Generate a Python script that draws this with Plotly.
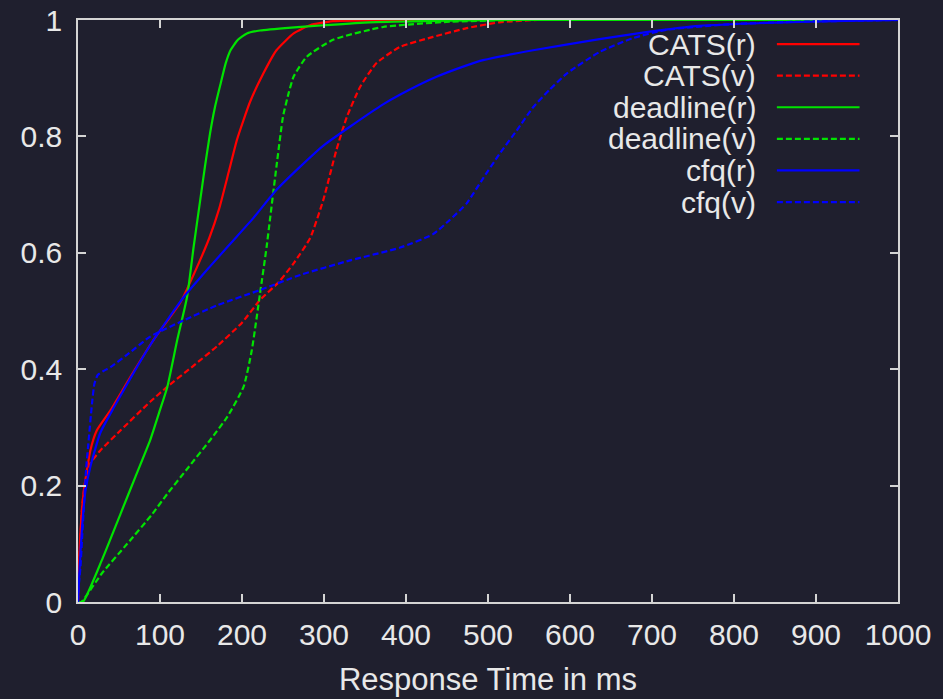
import plotly.graph_objects as go

# ---- data ----
series_names = ["CATS(r)", "CATS(v)", "deadline(r)", "deadline(v)", "cfq(r)", "cfq(v)"]

cats_r_x = [0, 1, 3, 7, 15, 23, 40, 64, 92, 125, 145, 160, 172, 184, 194, 210, 226, 242, 263, 283, 311, 400, 1000]
cats_r_y = [0, 0.05, 0.12, 0.19, 0.26, 0.295, 0.33, 0.387, 0.45, 0.515, 0.575, 0.625, 0.675, 0.74, 0.795, 0.86, 0.908, 0.948, 0.977, 0.991, 0.998, 1, 1]

cats_v_x = [0, 2, 5, 9, 15, 27, 52, 88, 109, 140, 170, 200, 222, 245, 263, 283, 299, 315, 328, 344, 364, 393, 433, 474, 514, 560, 1000]
cats_v_y = [0, 0.08, 0.163, 0.209, 0.238, 0.26, 0.295, 0.344, 0.37, 0.405, 0.44, 0.48, 0.519, 0.55, 0.582, 0.625, 0.69, 0.776, 0.834, 0.885, 0.926, 0.954, 0.971, 0.986, 0.996, 1, 1]

deadline_r_x = [0, 6, 30, 52, 70, 88, 100, 109, 121, 133, 141, 149, 155, 161, 167, 174, 180, 186, 195, 206, 222, 260, 300, 356, 420, 520, 1000]
deadline_r_y = [0, 0, 0.075, 0.152, 0.215, 0.278, 0.33, 0.37, 0.45, 0.524, 0.61, 0.69, 0.75, 0.805, 0.85, 0.891, 0.925, 0.948, 0.966, 0.977, 0.982, 0.987, 0.991, 0.996, 0.998, 1, 1]

deadline_v_x = [0, 4, 29, 60, 90, 109, 135, 161, 182, 202, 212, 222, 230, 234, 242, 250, 257, 263, 279, 311, 372, 453, 540, 1000]
deadline_v_y = [0, 0, 0.049, 0.10, 0.15, 0.186, 0.232, 0.278, 0.318, 0.37, 0.433, 0.53, 0.61, 0.656, 0.748, 0.834, 0.875, 0.903, 0.937, 0.966, 0.988, 0.997, 1, 1]

cfq_r_x = [0, 2, 5, 9, 15, 27, 44, 72, 92, 129, 160, 186, 214, 240, 271, 300, 332, 372, 393, 433, 474, 494, 555, 636, 697, 758, 839, 920, 1000]
cfq_r_y = [0, 0.06, 0.13, 0.19, 0.232, 0.29, 0.335, 0.404, 0.45, 0.524, 0.575, 0.616, 0.66, 0.705, 0.748, 0.785, 0.817, 0.855, 0.872, 0.9, 0.922, 0.931, 0.948, 0.967, 0.98, 0.99, 0.995, 0.998, 1]

cfq_v_x = [0, 1, 3, 5, 7, 10, 13, 17, 20, 24, 30, 40, 60, 88, 129, 170, 222, 271, 332, 393, 433, 453, 474, 494, 514, 535, 555, 575, 596, 636, 677, 717, 798, 880, 1000]
cfq_v_y = [0, 0.03, 0.06, 0.11, 0.16, 0.23, 0.278, 0.34, 0.375, 0.39, 0.396, 0.404, 0.425, 0.456, 0.484, 0.51, 0.536, 0.562, 0.587, 0.609, 0.632, 0.656, 0.685, 0.728, 0.77, 0.81, 0.85, 0.88, 0.908, 0.945, 0.969, 0.983, 0.993, 0.997, 1]

x_tick_vals = [0, 100, 200, 300, 400, 500, 600, 700, 800, 900, 1000]
x_tick_text = ["0", "100", "200", "300", "400", "500", "600", "700", "800", "900", "1000"]
y_tick_vals = [0, 0.2, 0.4, 0.6, 0.8, 1]
y_tick_text = ["0", "0.2", "0.4", "0.6", "0.8", "1"]

x_title = "Response Time in ms"

# ---- styling ----
BG = "#1f1f2e"
FG = "#e8e8e8"
AXC = "#d4d4d4"
RED = "#ff0000"
GREEN = "#00e400"
BLUE = "#0000ff"
FONT = "Liberation Sans, Arial, sans-serif"
FS = 30
FS_TITLE = 31
FS_LEG = 30
DASH = "6px,3px"

series = [
    (cats_r_x, cats_r_y, RED, "solid"),
    (cats_v_x, cats_v_y, RED, DASH),
    (deadline_r_x, deadline_r_y, GREEN, "solid"),
    (deadline_v_x, deadline_v_y, GREEN, DASH),
    (cfq_r_x, cfq_r_y, BLUE, "solid"),
    (cfq_v_x, cfq_v_y, BLUE, DASH),
]

fig = go.Figure()
for name, (xs, ys, col, dash) in zip(series_names, series):
    fig.add_trace(go.Scatter(
        x=xs, y=ys, mode="lines", name=name,
        line=dict(color=col, width=2.2, dash=dash, shape="spline", smoothing=0.5),
        showlegend=False, hoverinfo="skip",
    ))

# manual gnuplot-style legend (text right-aligned, sample on the right)
leg_y0 = 0.9587
leg_dy = 0.0543
for i, (name, (xs, ys, col, dash)) in enumerate(zip(series_names, series)):
    yy = leg_y0 - i * leg_dy
    fig.add_annotation(x=0.8276, y=yy, xref="paper", yref="paper", text=name,
                       showarrow=False, xanchor="right", yanchor="middle",
                       borderpad=0,
                       font=dict(family=FONT, size=FS_LEG, color=FG))
    fig.add_shape(type="line", xref="paper", yref="paper",
                  x0=0.8523, x1=0.9531, y0=yy, y1=yy,
                  line=dict(color=col, width=2.2, dash=dash))

axis_common = dict(
    showgrid=False, zeroline=False, showline=True, linecolor=AXC, linewidth=1.5,
    mirror="ticks", ticks="inside", ticklen=8, tickwidth=1.5, tickcolor=AXC,
    tickfont=dict(family=FONT, size=FS, color=FG), automargin=False,
    ticklabeloverflow="allow",
)

fig.update_layout(
    width=943, height=699,
    margin=dict(l=78, r=45, t=20, b=97),
    paper_bgcolor=BG, plot_bgcolor=BG,
    font=dict(family=FONT, size=FS, color=FG),
    xaxis=dict(range=[0, 1000], tickvals=x_tick_vals, ticktext=x_tick_text,
               title=dict(text=x_title, font=dict(family=FONT, size=FS_TITLE, color=FG), standoff=19),
               ticklabelstandoff=5, **axis_common),
    yaxis=dict(range=[0, 1], tickvals=y_tick_vals, ticktext=y_tick_text,
               ticklabelstandoff=8, **axis_common),
)

# remove the default 8px page margin so the figure fills the window exactly
fig.write_html(
    "out.html",
    config={"displayModeBar": False},
    post_script="document.body.style.margin='0';document.body.style.background='" + BG + "';",
)
